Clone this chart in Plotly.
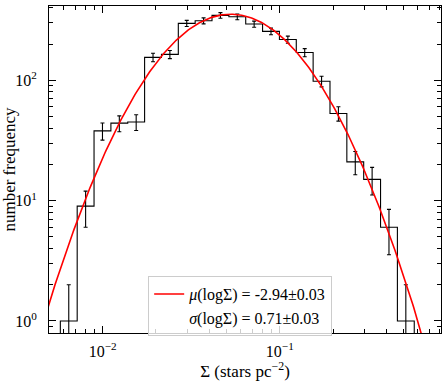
import numpy as np
import plotly.graph_objects as go

# log10 of the histogram bin edges (21 bins)
log_edge_lo = -2.239
log_edge_hi = -0.241
n_bins = 21

# star counts per bin
counts = [1, 9, 38, 44, 45, 155, 164, 297, 312, 346, 337,
          293, 255, 218, 170, 98, 53, 21, 15, 6, 1]

# gaussian fit in ln(Sigma), from the legend
mu = -2.94
sigma = 0.71
amp = 354

edges = np.logspace(log_edge_lo, log_edge_hi, n_bins + 1)
centers = np.sqrt(edges[:-1] * edges[1:])
cnt = np.array(counts, dtype=float)
err = np.sqrt(cnt)
err_minus = np.minimum(err, cnt - 1e-3)

step_x = [edges[0]] + list(edges) + [edges[-1]]
step_y = [0.05] + list(cnt) + [cnt[-1], 0.05]

curve_x = np.logspace(-2.5, 0, 400)
curve_y = amp * np.exp(-(np.log(curve_x) - mu) ** 2 / (2 * sigma ** 2))

font = "Liberation Serif"

fig = go.Figure()

fig.add_trace(go.Scatter(
    x=step_x, y=step_y, mode="lines", line=dict(color="black", width=1.1, shape="hv"),
    showlegend=False, hoverinfo="skip"))

fig.add_trace(go.Scatter(
    x=centers, y=cnt, mode="markers", marker=dict(size=0.1, color="black"),
    error_y=dict(type="data", array=err, arrayminus=err_minus, color="black",
                 thickness=1.1, width=2),
    showlegend=False))

fig.add_trace(go.Scatter(
    x=curve_x, y=curve_y, mode="lines", line=dict(color="#ff0000", width=1.6),
    name="<i>μ</i>(logΣ) = -2.94±0.03"))

fig.add_trace(go.Scatter(
    x=[None], y=[None], mode="lines", line=dict(color="rgba(0,0,0,0)", width=1),
    name="<i>σ</i>(logΣ) = 0.71±0.03"))

x_minor = [v * 10.0 ** p for p in (-3, -2, -1) for v in range(2, 10)]
y_minor = [v * 10.0 ** p for p in (-1, 0, 1, 2) for v in range(2, 10)]

axis_common = dict(
    type="log", showgrid=False, zeroline=False, showline=True, linecolor="black",
    linewidth=1, mirror="ticks", ticks="inside", ticklen=7, tickwidth=1.3,
    tickcolor="black", tickfont=dict(family=font, size=16, color="black"),
    automargin=False,
)

fig.update_xaxes(
    **axis_common, range=[-2.303, -0.09], ticklabelstandoff=4,
    tickvals=[0.01, 0.1], ticktext=["10<sup>−2</sup>", "10<sup>−1</sup>"],
    minor=dict(tickvals=x_minor, ticks="inside", ticklen=4, tickwidth=1.3,
               tickcolor="black", showgrid=False),
    title=dict(text="Σ (stars pc<sup>−2</sup>)", font=dict(family=font, size=17, color="black"),
               standoff=3),
)
fig.update_yaxes(
    **axis_common, range=[-0.1, 2.617], ticklabelstandoff=8,
    tickvals=[1, 10, 100], ticktext=["10<sup>0</sup>", "10<sup>1</sup>", "10<sup>2</sup>"],
    minor=dict(tickvals=y_minor, ticks="inside", ticklen=4, tickwidth=1.3,
               tickcolor="black", showgrid=False),
    title=dict(text="number frequency", font=dict(family=font, size=17, color="black"),
               standoff=4),
)

fig.update_layout(
    width=447, height=381,
    margin=dict(l=49, r=6, t=6, b=48),
    plot_bgcolor="white", paper_bgcolor="white",
    font=dict(family=font, size=16, color="black"),
    legend=dict(x=0.253, y=0.174, xanchor="left", yanchor="top",
                bordercolor="#cccccc", borderwidth=1, bgcolor="rgba(255,255,255,0.8)",
                font=dict(family=font, size=16, color="black")),
)

# page has a default body margin; drop it so the figure fills the window
fig.write_html("out.html", config={"displayModeBar": False},
               post_script="document.body.style.margin='0';")
